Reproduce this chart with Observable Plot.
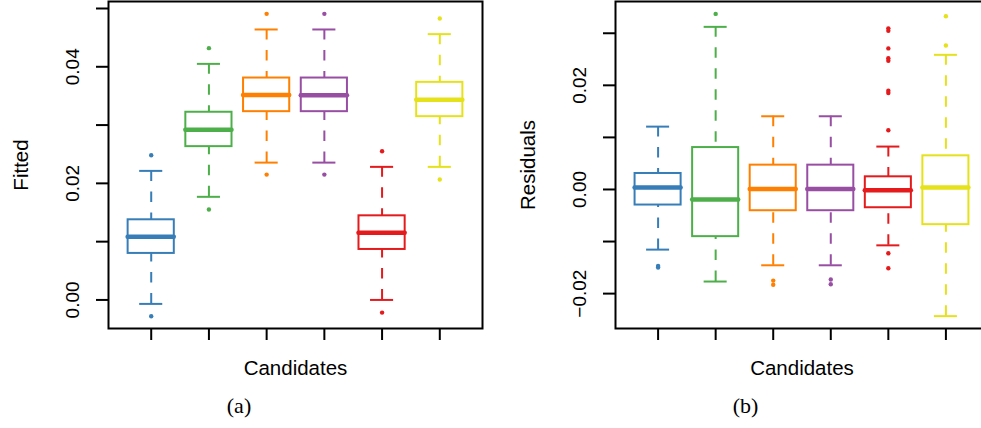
<!DOCTYPE html>
<html>
<head>
<meta charset="utf-8">
<script src="https://cdn.jsdelivr.net/npm/d3@7"></script>
<script src="https://cdn.jsdelivr.net/npm/@observablehq/plot@0.6"></script>
<style>
  html, body { margin: 0; padding: 0; background: #fff; overflow: hidden; }
  #figure { position: relative; width: 981px; height: 428px; overflow: hidden; background: #fff; }
  .panel { position: absolute; top: 0; height: 385px; }
  .panel svg { max-width: none !important; display: block; }
  .caption {
    position: absolute; top: 394.6px;
    font-family: "Liberation Serif", "Times New Roman", serif;
    font-size: 22px; line-height: 22px; color: #000;
    transform: translateX(-50%); white-space: nowrap;
  }
</style>
</head>
<body>
<div id="figure">
  <div id="panelA" class="panel" style="left:0px; width:490px"></div>
  <div id="panelB" class="panel" style="left:490px; width:500px"></div>
  <div class="caption" style="left:239px">(a)</div>
  <div class="caption" style="left:745.5px">(b)</div>
</div>
<script>
// Candidate positions along the x axis and their colours
const candidates = [1, 2, 3, 4, 5, 6];
const colors = ["#377EB8", "#4DAF4A", "#FF7F00", "#984EA3", "#E41A1C", "#E5E11A"];

// (a) Fitted values: five-number summaries and outliers per candidate
const fitLowerWhisker = [-0.00068, 0.01769, 0.02356, 0.02356, 0.00000, 0.02283];
const fitQ1           = [ 0.00798, 0.02630, 0.03230, 0.03230, 0.00866, 0.03144];
const fitMedian       = [ 0.01084, 0.02920, 0.03515, 0.03512, 0.01152, 0.03435];
const fitQ3           = [ 0.01375, 0.03220, 0.03807, 0.03807, 0.01443, 0.03733];
const fitUpperWhisker = [ 0.02214, 0.04050, 0.04640, 0.04640, 0.02283, 0.04560];
const fitOutliers = [
  [-0.00281, 0.02483],
  [0.01551, 0.04320],
  [0.02150, 0.04908],
  [0.02150, 0.04908],
  [-0.00217, 0.02551],
  [0.02065, 0.04829]
];

// (b) Residuals: five-number summaries and outliers per candidate
const resLowerWhisker = [-0.01155, -0.01768, -0.01456, -0.01456, -0.01073, -0.02433];
const resQ1           = [-0.00299, -0.00906, -0.00408, -0.00408, -0.00351, -0.00676];
const resMedian       = [ 0.00038, -0.00192,  0.00008,  0.00008, -0.00013,  0.00038];
const resQ3           = [ 0.00307,  0.00805,  0.00467,  0.00467,  0.00243,  0.00646];
const resUpperWhisker = [ 0.01207,  0.03123,  0.01406,  0.01406,  0.00824,  0.02586];
const resOutliers = [
  [-0.0147, -0.0150],
  [0.03372],
  [-0.0175, -0.0183],
  [-0.0173, -0.0182],
  [-0.01226, -0.01513, 0.01138, 0.01852, 0.01897, 0.02471, 0.02519, 0.02709, 0.03046, 0.03094],
  [0.02766, 0.03328]
];

// Axis ticks
const fitTicks = [0, 0.01, 0.02, 0.03, 0.04, 0.05];
const fitTickLabels = [0, 0.02, 0.04];
const resTicks = [-0.02, -0.01, 0, 0.01, 0.02, 0.03];
const resTickLabels = [-0.02, 0, 0.02];
const xTitle = "Candidates";

function boxRows(lo, q1, med, q3, hi) {
  return candidates.map((c, i) => ({c, color: colors[i], lo: lo[i], q1: q1[i], med: med[i], q3: q3[i], hi: hi[i]}));
}
function outlierRows(out) {
  return out.flatMap((vals, i) => vals.map(v => ({c: candidates[i], color: colors[i], v})));
}

const sans = "'Liberation Sans', Arial, Helvetica, sans-serif";
const fmt = d => d3.format(".2f")(d).replace("-", "\u2212");
const boxHalf = 0.4, stapleHalf = 0.2;
const whiskerDash = "10.5,10.5";

function boxplot({rows, outliers, yDomain, ticks, tickLabels, yTitle, width, marginLeft, marginRight}) {
  return Plot.plot({
    width, height: 385,
    marginLeft, marginRight, marginTop: 1, marginBottom: 57,
    style: {fontFamily: sans, background: "white", color: "black", overflow: "visible", maxWidth: "none"},
    x: {type: "linear", domain: [0.26, 6.74]},
    y: {type: "linear", domain: yDomain},
    color: {type: "identity"},
    marks: [
      // whiskers run from each whisker end toward the box
      Plot.ruleX(rows, {x: "c", y1: "lo", y2: "q1", stroke: "color", strokeWidth: 2, strokeDasharray: whiskerDash}),
      Plot.ruleX(rows, {x: "c", y1: "hi", y2: "q3", stroke: "color", strokeWidth: 2, strokeDasharray: whiskerDash}),
      // staples
      Plot.ruleY(rows, {y: "lo", x1: d => d.c - stapleHalf, x2: d => d.c + stapleHalf, stroke: "color", strokeWidth: 2}),
      Plot.ruleY(rows, {y: "hi", x1: d => d.c - stapleHalf, x2: d => d.c + stapleHalf, stroke: "color", strokeWidth: 2}),
      // boxes
      Plot.rect(rows, {x1: d => d.c - boxHalf, x2: d => d.c + boxHalf, y1: "q1", y2: "q3", fill: "white", stroke: "color", strokeWidth: 2}),
      // medians
      Plot.ruleY(rows, {y: "med", x1: d => d.c - boxHalf, x2: d => d.c + boxHalf, stroke: "color", strokeWidth: 4.5, strokeLinecap: "round"}),
      // outliers
      Plot.dot(outliers, {x: "c", y: "v", fill: "color", r: 2.2, stroke: "none"}),
      Plot.frame({stroke: "black", strokeWidth: 2}),
      Plot.axisX(candidates, {tickSize: 12, strokeWidth: 2, tickFormat: () => "", label: null}),
      Plot.axisY(ticks, {tickSize: 12, strokeWidth: 2, tickFormat: () => "", label: null}),
      Plot.text(tickLabels, {y: d => d, text: d => fmt(d), frameAnchor: "left", dx: -29.5, rotate: -90,
        textAnchor: "middle", lineAnchor: "bottom", fontSize: 19, fill: "black"}),
      Plot.text([xTitle], {text: d => d, frameAnchor: "bottom", dy: 46, lineAnchor: "bottom",
        textAnchor: "middle", fontSize: 20.5, fill: "black"}),
      Plot.text([yTitle], {text: d => d, frameAnchor: "left", dx: -81, rotate: -90,
        textAnchor: "middle", lineAnchor: "bottom", fontSize: 20.5, fill: "black"})
    ]
  });
}

document.getElementById("panelA").append(boxplot({
  rows: boxRows(fitLowerWhisker, fitQ1, fitMedian, fitQ3, fitUpperWhisker),
  outliers: outlierRows(fitOutliers),
  yDomain: [-0.0049, 0.0512],
  ticks: fitTicks, tickLabels: fitTickLabels,
  yTitle: "Fitted",
  width: 490, marginLeft: 108, marginRight: 8
}));

document.getElementById("panelB").append(boxplot({
  rows: boxRows(resLowerWhisker, resQ1, resMedian, resQ3, resUpperWhisker),
  outliers: outlierRows(resOutliers),
  yDomain: [-0.0267, 0.0361],
  ticks: resTicks, tickLabels: resTickLabels,
  yTitle: "Residuals",
  width: 500, marginLeft: 125, marginRight: 2
}));
</script>
</body>
</html>
